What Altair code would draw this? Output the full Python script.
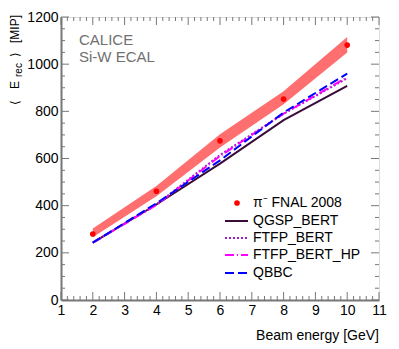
import altair as alt
import pandas as pd

# ---- data ----
energy = [2, 4, 6, 8, 10]
data_y = [280, 461, 675, 852, 1081]
band_lo = [266, 440, 647, 830, 1050]
band_hi = [303, 483, 703, 885, 1115]
qgsp_bert = [243, 405, 578, 763, 908]
ftfp_bert = [243, 405, 615, 790, 940]
ftfp_bert_hp = [243, 403, 610, 790, 945]
qbbc = [243, 410, 592, 795, 960]

x_tick_labels = [1, 2, 3, 4, 5, 6, 7, 8, 9, 10, 11]
y_tick_labels = [0, 200, 400, 600, 800, 1000, 1200]
x_minor = [round(1 + 0.2 * i, 2) for i in range(51)]
y_minor = [50 * i for i in range(25)]

legend_labels = ["π⁻ FNAL 2008", "QGSP_BERT", "FTFP_BERT", "FTFP_BERT_HP", "QBBC"]

W, H = 318, 283
FONT = "Liberation Sans"
FRAME = "#777777"

xs = alt.Scale(domain=[1, 11], nice=False, zero=False)
ys = alt.Scale(domain=[0, 1200], nice=False, zero=False)

df = pd.DataFrame({
    "E": energy, "data": data_y, "lo": band_lo, "hi": band_hi,
    "QGSP_BERT": qgsp_bert, "FTFP_BERT": ftfp_bert,
    "FTFP_BERT_HP": ftfp_bert_hp, "QBBC": qbbc,
})


def xaxis():
    return alt.Axis(values=x_tick_labels, ticks=False, tickSize=0, grid=False, title=None,
                    labelFontSize=14, labelFont=FONT, labelColor="black", labelPadding=3,
                    labelFlush=False, labelOverlap=False, domainColor=FRAME, domainWidth=2,
                    format="d")


def yaxis():
    return alt.Axis(values=y_tick_labels, ticks=False, tickSize=0, grid=False, title=None,
                    labelFontSize=14, labelFont=FONT, labelColor="black", labelPadding=3,
                    labelFlush=False, labelOverlap=False, domainColor=FRAME, domainWidth=2,
                    format="d")


def X(f):
    return alt.X(f, scale=xs, axis=xaxis())


def Y(f):
    return alt.Y(f, scale=ys, axis=yaxis())


base = alt.Chart(df)

band = base.mark_area(color="#ff6f6f").encode(x=X("E:Q"), y=Y("lo:Q"), y2="hi:Q")

styles = [
    ("QGSP_BERT", "#3a0c3a", []),
    ("FTFP_BERT", "#a020c8", [2, 2]),
    ("FTFP_BERT_HP", "#ff00ff", [9, 3, 1, 3]),
    ("QBBC", "#0000ff", [9, 4]),
]
lines = []
for name, col, dash in styles:
    kw = dict(color=col, strokeWidth=2)
    if dash:
        kw["strokeDash"] = dash
    lines.append(base.mark_line(**kw).encode(x=X("E:Q"), y=Y(f"{name}:Q")))

points = base.mark_circle(color="#ff0000", size=32, opacity=1).encode(
    x=X("E:Q"), y=Y("data:Q"))

# inner ticks on all four sides
tick_layers = []
xmaj = pd.DataFrame({"v": x_tick_labels})
xmin = pd.DataFrame({"v": [v for v in x_minor if abs(v - round(v)) > 1e-6]})
ymaj = pd.DataFrame({"v": y_tick_labels})
ymin = pd.DataFrame({"v": [v for v in y_minor if v % 200 != 0]})
for d, L in [(xmaj, 8), (xmin, 4)]:
    tick_layers.append(alt.Chart(d).mark_rule(color=FRAME, strokeWidth=1).encode(
        x=X("v:Q"), y=alt.value(H), y2=alt.value(H - L)))
    tick_layers.append(alt.Chart(d).mark_rule(color=FRAME, strokeWidth=1).encode(
        x=X("v:Q"), y=alt.value(0), y2=alt.value(L)))
for d, L in [(ymaj, 8), (ymin, 4)]:
    tick_layers.append(alt.Chart(d).mark_rule(color=FRAME, strokeWidth=1).encode(
        y=Y("v:Q"), x=alt.value(0), x2=alt.value(L)))
    tick_layers.append(alt.Chart(d).mark_rule(color=FRAME, strokeWidth=1).encode(
        y=Y("v:Q"), x=alt.value(W), x2=alt.value(W - L)))


def txt(s, x, y, size=14, color="black", align="left", baseline="alphabetic", angle=0):
    kw = dict(font=FONT, fontSize=size, color=color, align=align, baseline=baseline)
    if angle:
        kw["angle"] = angle
    return alt.Chart(pd.DataFrame({"t": [s]})).mark_text(**kw).encode(
        text="t:N", x=alt.value(x), y=alt.value(y))


texts = [
    txt("CALICE", 18, 28, size=15, color="#707070"),
    txt("Si-W ECAL", 18, 45, size=15, color="#707070"),
    txt("Beam energy [GeV]", W, 323, size=14, align="right"),
    # rotated y title  < E_rec > [MIP]
    txt("⟨", -42, 88, size=12, angle=270),
    txt("E", -42, 72, size=12, angle=270),
    txt("rec", -39, 60, size=10, angle=270),
    txt("⟩", -42, 40, size=12, angle=270),
    txt("[MIP]", -42, -2, size=12, align="right", angle=270),
]

# legend
rows = [186, 204, 221, 238, 256]
leg = []
leg.append(alt.Chart(pd.DataFrame({"t": [legend_labels[0]]})).mark_circle(
    color="#ff0000", size=32, opacity=1).encode(x=alt.value(176), y=alt.value(rows[0])))
for (name, col, dash), ry in zip(styles, rows[1:]):
    kw = dict(color=col, strokeWidth=2)
    if dash:
        kw["strokeDash"] = dash
    leg.append(alt.Chart(pd.DataFrame({"t": [name]})).mark_rule(**kw).encode(
        x=alt.value(164), x2=alt.value(187), y=alt.value(ry)))
for lab, ry in zip(legend_labels, rows):
    leg.append(txt(lab, 192, ry, size=14, baseline="middle"))

chart = alt.layer(band, *lines, points, *tick_layers, *texts, *leg).properties(
    width=W, height=H,
    autosize=alt.AutoSizeParams(type="none"),
    padding={"left": 53, "top": 9, "right": 12, "bottom": 45},
).configure_view(stroke=FRAME, strokeWidth=2).configure(background="white")

chart.save("out.html", embed_options={"renderer": "svg", "actions": False})
